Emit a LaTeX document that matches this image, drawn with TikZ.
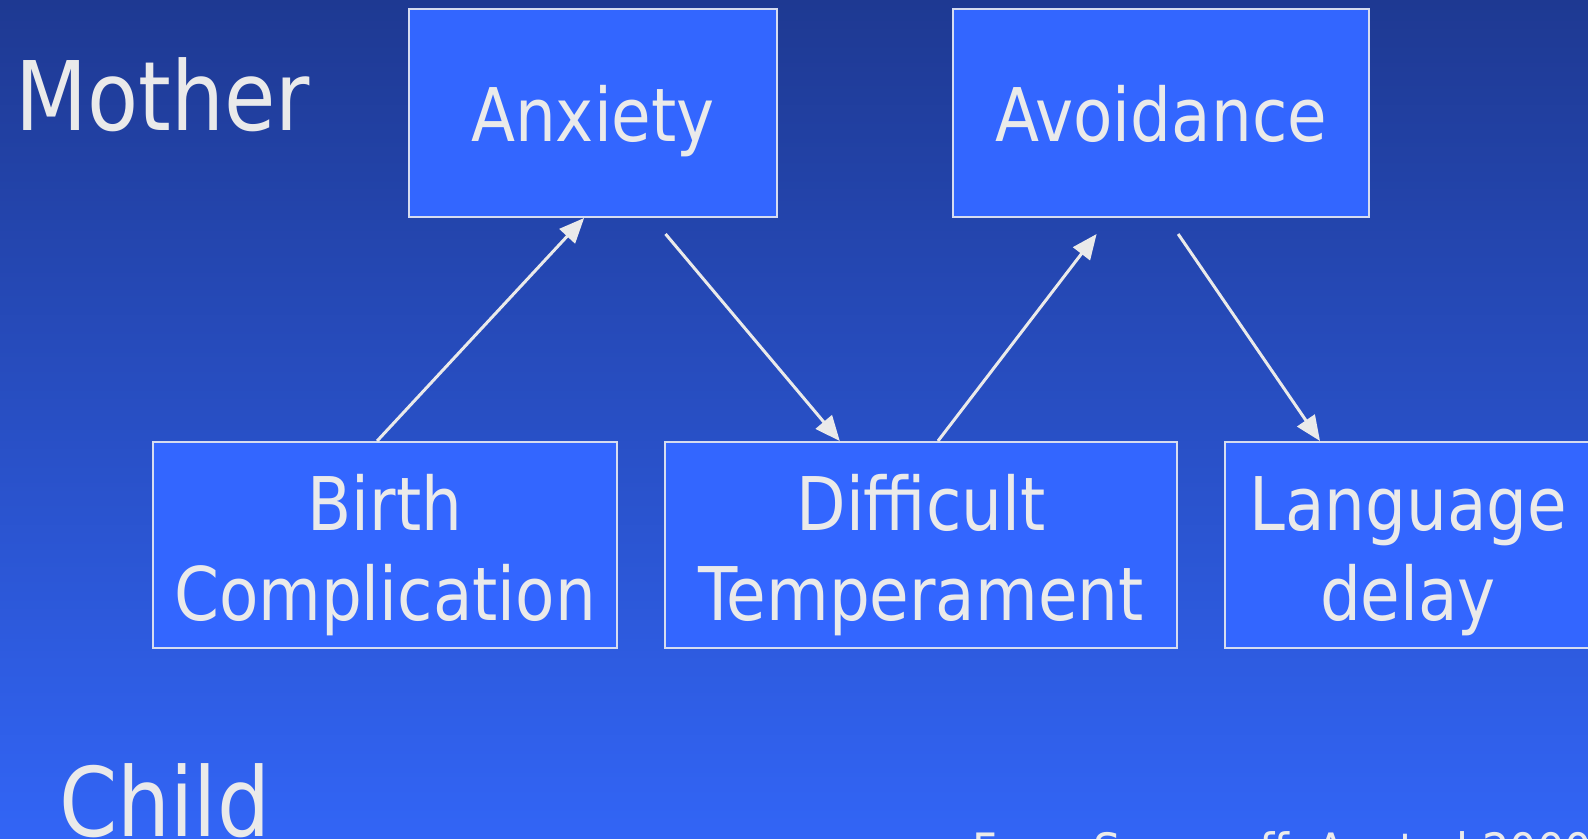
\documentclass[tikz,border=0pt]{standalone}
\usepackage{fontspec}
\setmainfont{DejaVu Sans}[FakeStretch=0.87]
\usetikzlibrary{arrows.meta,calc}

\definecolor{bgtop}{RGB}{30,57,146}
\definecolor{bgbot}{RGB}{50,101,246}
\definecolor{boxfill}{RGB}{51,102,255}
\definecolor{boxline}{RGB}{214,220,240}
\definecolor{ink}{RGB}{234,234,234}

\tikzset{
  factor/.style={draw=boxline, line width=1pt, fill=boxfill, text=ink,
    inner sep=0pt, align=center, text depth=0pt,
    font=\fontsize{37}{45}\selectfont},
  oneline/.style={factor, text height=29pt},
  twoline/.style={factor, text height=75pt},
  sidelabel/.style={text=ink, inner sep=0pt, anchor=base west,
    font=\fontsize{48}{56}\selectfont},
  source/.style={text=ink, inner sep=0pt, anchor=base west,
    font=\fontsize{23}{28}\selectfont\addfontfeature{FakeStretch=0.94}},
  link/.style={draw=ink, line width=1.5pt,
    -{Triangle[length=12.5pt,width=10.5pt]}}
}

\begin{document}
\begin{tikzpicture}[x=0.5pt,y=-0.5pt]
  % canvas and vertical shading
  \useasboundingbox (0,0) rectangle (1588,839);
  \clip (0,0) rectangle (1588,839);
  \shade[top color=bgtop, bottom color=bgbot] (0,0) rectangle (1588,839);

  % row labels
  \node[sidelabel] (mother) at (15,131) {Mother};
  \node[sidelabel] (child) at (59,836) {Child};

  % mother factors
  \node[oneline, minimum width=184pt, minimum height=104pt] (anx) at (593,113) {Anxiety};
  \node[oneline, minimum width=208pt, minimum height=104pt] (avo) at (1161,113) {Avoidance};

  % child factors
  \node[twoline, minimum width=232pt, minimum height=103pt] (birth) at (385,545) {Birth\\Complication};
  \node[twoline, minimum width=256pt, minimum height=103pt] (temp) at (921,545) {Difficult\\Temperament};
  \node[twoline, minimum width=183pt, minimum height=103pt] (lang) at (1408,545) {Language\\delay};

  % end points of the links on the box edges
  \coordinate (b1) at ($(birth.north west)!0.483!(birth.north east)$);
  \coordinate (a1) at ($(anx.south west)!0.476!(anx.south east)$);
  \coordinate (a2) at ($(anx.south west)!0.696!(anx.south east)+(0,16)$);
  \coordinate (t1) at ($(temp.north west)!0.342!(temp.north east)$);
  \coordinate (t2) at ($(temp.north west)!0.533!(temp.north east)$);
  \coordinate (v1) at ($(avo.south west)!0.346!(avo.south east)+(0,16)$);
  \coordinate (v2) at ($(avo.south west)!0.541!(avo.south east)+(0,16)$);
  \coordinate (l1) at ($(lang.north west)+(96,0)$);

  % links
  \draw[link] (b1) -- (a1);
  \draw[link] (a2) -- (t1);
  \draw[link] (t2) -- (v1);
  \draw[link] (v2) -- (l1);

  % source line, running off the lower edge
  \node[source] (cite) at (972,866) {From Sameroff, A. et al 2000};
\end{tikzpicture}
\end{document}
